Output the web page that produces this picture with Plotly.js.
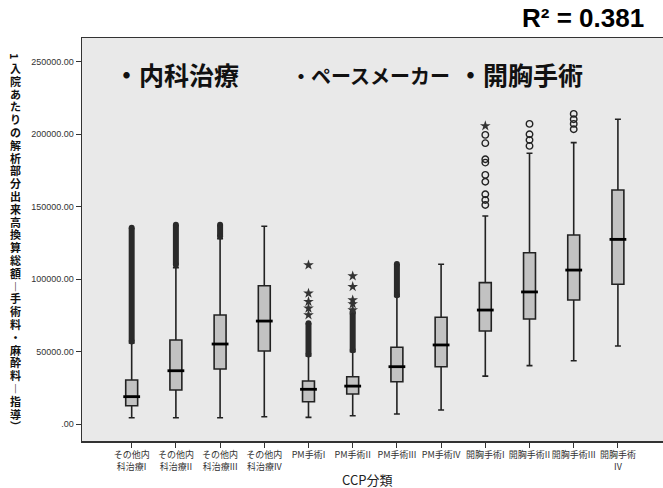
<!DOCTYPE html>
<html>
<head>
<meta charset="utf-8">
<script src="https://cdn.plot.ly/plotly-3.0.1.min.js"></script>
<style>
  html, body { margin: 0; padding: 0; background: #ffffff; }
  #chart { width: 663px; height: 488px; }
</style>
</head>
<body>
<div id="chart"></div>
<script>
// CCP categories (x axis)
const categories = [
  'その他内<br>科治療I', 'その他内<br>科治療II', 'その他内<br>科治療III', 'その他内<br>科治療IV',
  'PM手術I', 'PM手術II', 'PM手術III', 'PM手術IV',
  '開胸手術I', '開胸手術II', '開胸手術III', '開胸手術<br>IV'
];

// Box statistics per category
const lowerWhisker = [4400, 4400, 4400, 5000, 4600, 5700, 6900, 9700, 33100, 40300, 43700, 53900];
const q1Values     = [12650, 23500, 38000, 50400, 15400, 20700, 29200, 39600, 64200, 72500, 85600, 96500];
const medians      = [18900, 36800, 55250, 71100, 24000, 26200, 39600, 54600, 78700, 91200, 106300, 127500];
const q3Values     = [30400, 58000, 75300, 95500, 29700, 32700, 53000, 73700, 97600, 118300, 130500, 161600];
const upperWhisker = [56000, 108000, 128000, 136500, 47000, 50000, 88000, 110300, 143600, 186900, 194300, 210400];

// Densely packed outlier runs (low/high end of each run)
const denseCats = [categories[0], categories[1], categories[2], categories[4], categories[5], categories[6]];
const denseLow  = [57000, 110000, 129500, 48000, 51000, 89000];
const denseHigh = [135500, 137500, 137500, 69500, 77600, 110500];

// Individual outliers (circles)
const circleCats = [
  categories[8], categories[8], categories[8], categories[8], categories[8],
  categories[8], categories[8], categories[8], categories[8],
  categories[9], categories[9], categories[9], categories[9],
  categories[10], categories[10], categories[10], categories[10]
];
const circleValues = [
  199600, 193900, 182800, 180500, 172000, 167300, 158600, 154700, 151200,
  207200, 200100, 196100, 192000,
  214100, 210400, 207200, 203500
];

// Extreme values (stars)
const starCats = [
  categories[4], categories[4], categories[4], categories[4], categories[4],
  categories[5], categories[5], categories[5], categories[5], categories[5],
  categories[8]
];
const starValues = [
  109800, 90300, 84500, 79900, 75300,
  102200, 94800, 85600, 82900, 78700,
  205800
];

// Y axis ticks
const yTickValues = [0, 50000, 100000, 150000, 200000, 250000];
const yTickLabels = ['.00', '50000.00', '100000.00', '150000.00', '200000.00', '250000.00'];

// Y axis title, written top to bottom (the leading digit is turned sideways)
const yTitleLead = '1';
const yTitleChars = ['入','院','あ','た','り','の','解','析','部','分','出','来','高','換','算','総','額','︱','手','術','料','・','麻','酔','料','︱','指','導','︶'];

const ink = '#222222';

// dense runs: joined into one trace separated by gaps
const denseX = [], denseY = [];
denseCats.forEach((c, i) => {
  denseX.push(c, c, null);
  denseY.push(denseLow[i], denseHigh[i], null);
});

const traces = [
  {
    type: 'box',
    x: categories,
    q1: q1Values,
    median: medians,
    q3: q3Values,
    lowerfence: lowerWhisker,
    upperfence: upperWhisker,
    boxpoints: false,
    width: 0.27,
    whiskerwidth: 0.5,
    fillcolor: '#c2c2c2',
    line: { color: ink, width: 1.6 },
    hoverinfo: 'skip',
    showlegend: false
  },
  {
    type: 'scatter',
    mode: 'lines+markers',
    x: denseX,
    y: denseY,
    connectgaps: false,
    line: { color: '#2a2a2a', width: 6 },
    marker: { symbol: 'circle', size: 6, color: '#2a2a2a' },
    hoverinfo: 'skip',
    showlegend: false
  },
  {
    type: 'scatter',
    mode: 'markers',
    x: circleCats,
    y: circleValues,
    marker: { symbol: 'circle-open', size: 6.5, color: ink, line: { width: 1.4, color: ink } },
    hoverinfo: 'skip',
    showlegend: false
  },
  {
    type: 'scatter',
    mode: 'markers',
    x: starCats,
    y: starValues,
    marker: { symbol: 'star', size: 8, color: '#333333', line: { width: 0 } },
    hoverinfo: 'skip',
    showlegend: false
  },
  {
    // thick median bars
    type: 'scatter',
    mode: 'markers',
    x: categories,
    y: medians,
    marker: { symbol: 'line-ew', size: 12, line: { width: 2.8, color: '#000000' } },
    hoverinfo: 'skip',
    showlegend: false
  }
];

const cjk = '"Noto Sans CJK JP", "Noto Sans", sans-serif';
const kanjiFont = { family: cjk, size: 25, color: '#111111', weight: 700 };
const kanaFont = { family: cjk, size: 20, color: '#111111', weight: 700 };

// plot box in pixels, used to place free text in paper units
const plotLeft = 82, plotTop = 38, plotW = 581, plotH = 403;
const px = (x) => (x - plotLeft) / plotW;
const py = (y) => (plotTop + plotH - y) / plotH;

const annotations = [
  {
    text: 'R² = 0.381',
    xref: 'paper', yref: 'paper',
    x: px(583), y: py(18),
    xanchor: 'center', yanchor: 'middle',
    showarrow: false,
    font: { family: '"Liberation Sans", Arial, sans-serif', size: 26, color: '#000000', weight: 700 }
  },
  {
    text: '・内科治療',
    xref: 'paper', yref: 'paper',
    x: px(112), y: py(74),
    xanchor: 'left', yanchor: 'middle',
    showarrow: false,
    font: kanjiFont
  },
  {
    text: '・ペースメーカー',
    xref: 'paper', yref: 'paper',
    x: px(289), y: py(75),
    xanchor: 'left', yanchor: 'middle',
    showarrow: false,
    font: kanaFont
  },
  {
    text: '・開胸手術',
    xref: 'paper', yref: 'paper',
    x: px(456), y: py(74),
    xanchor: 'left', yanchor: 'middle',
    showarrow: false,
    font: kanjiFont
  },
  {
    text: 'CCP分類',
    xref: 'paper', yref: 'paper',
    x: px(367), y: py(479),
    xanchor: 'center', yanchor: 'middle',
    showarrow: false,
    font: { family: cjk, size: 13, color: '#222222' }
  },
  {
    text: yTitleLead,
    xref: 'paper', yref: 'paper',
    x: px(15), y: py(56),
    xanchor: 'center', yanchor: 'middle',
    textangle: 90,
    showarrow: false,
    font: { family: cjk, size: 11, color: '#111111', weight: 700 }
  }
];

// stacked characters of the y axis title, one row each
const titleTop = 68, titleStep = 12.8;
yTitleChars.forEach((ch, i) => {
  annotations.push({
    text: ch,
    xref: 'paper', yref: 'paper',
    x: px(15), y: py(titleTop + i * titleStep),
    xanchor: 'center', yanchor: 'middle',
    showarrow: false,
    font: { family: cjk, size: 11, color: '#111111', weight: 700 }
  });
});

const layout = {
  width: 663,
  height: 488,
  margin: { l: plotLeft, r: 0, t: plotTop, b: 488 - plotTop - plotH },
  paper_bgcolor: '#ffffff',
  plot_bgcolor: '#e9e9e9',
  showlegend: false,
  xaxis: {
    type: 'category',
    range: [-1.124, 12.02],
    showgrid: false,
    zeroline: false,
    showline: true,
    mirror: true,
    linecolor: '#333333',
    linewidth: 1.5,
    ticks: 'outside',
    ticklen: 5,
    tickcolor: '#333333',
    tickfont: { family: cjk, size: 9, color: '#333333' },
    tickangle: 0
  },
  yaxis: {
    range: [-11700, 266500],
    showgrid: false,
    zeroline: false,
    showline: true,
    linecolor: '#333333',
    linewidth: 1.5,
    ticks: 'outside',
    ticklen: 5,
    tickcolor: '#333333',
    tickvals: yTickValues,
    ticktext: yTickLabels,
    tickfont: { family: '"Liberation Sans", Arial, sans-serif', size: 9, color: '#333333' }
  },
  annotations: annotations
};

Plotly.newPlot('chart', traces, layout, { displayModeBar: false, staticPlot: true });
</script>
</body>
</html>
